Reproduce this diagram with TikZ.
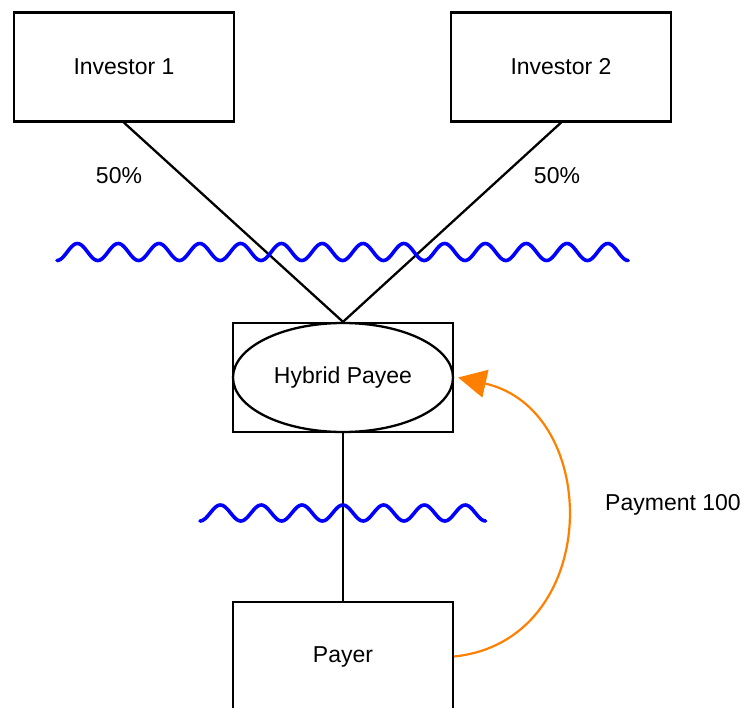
\documentclass[tikz,border=0pt]{standalone}
\usepackage{fontspec}
\setmainfont{Liberation Sans}
\usetikzlibrary{arrows.meta,shapes.geometric}
\definecolor{wave}{RGB}{0,0,255}
\definecolor{pay}{RGB}{255,128,0}
\tikzset{
  txt/.style={font=\fontsize{23}{27}\selectfont},
  box/.style={draw, line width=2.3pt, minimum width=220pt, minimum height=109pt, inner sep=0pt, txt},
  oval/.style={draw, ellipse, line width=2.3pt, minimum width=220pt, minimum height=109pt, inner sep=0pt, txt},
  link/.style={line width=2.3pt},
  wavy/.style={wave, line width=3.6pt, line cap=round, line join=round},
  lbl/.style={txt, inner sep=0pt},
}
\begin{document}
\begin{tikzpicture}[x=1pt,y=-1pt]
\clip (0,0) rectangle (747,707);
\useasboundingbox (0,0) rectangle (747,707);
\node[box] (inv1) at (124,67) {Investor 1};
\node[box] (inv2) at (561,67) {Investor 2};
\node[box] (hpbox) at (343,377.5) {};
\node[oval] (hp) at (343,377.5) {Hybrid Payee};
\node[box] (payer) at (343,656.5) {Payer};
\draw[link] (inv1.south) -- (hpbox.north);
\draw[link] (inv2.south) -- (hpbox.north);
\draw[link] (hpbox.south) -- (payer.north);
\node[lbl] (l1) at (119,176) {50\%};
\node[lbl] (l2) at (557,176) {50\%};
\node[lbl] (l3) at (673,505) {Payment 100};
\draw[wavy] plot[domain=0:5040, samples=400, smooth] ({57+\x/360*40.8},{252+8.5*cos(\x)});
\draw[wavy] plot[domain=0:2520, samples=200, smooth] ({200+\x/360*40.8},{513+8*cos(\x)});
\coordinate (tip) at ([xshift=4pt]hp.east);
\draw[pay, line width=2.2pt, -{Triangle[length=28pt,width=28pt]}] (payer.east) .. controls (603,641) and (603,410) .. (tip);
\end{tikzpicture}
\end{document}
